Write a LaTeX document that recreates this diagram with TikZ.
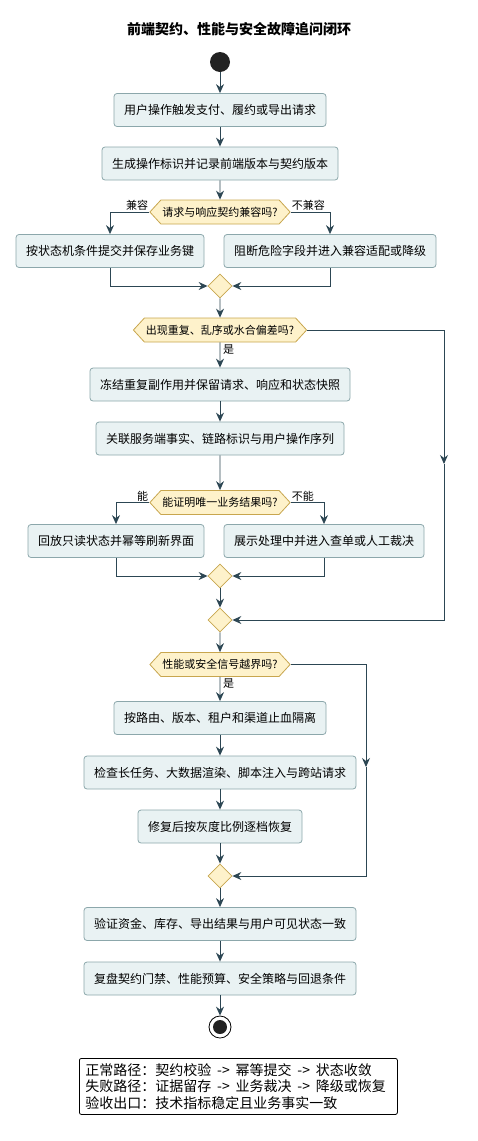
\documentclass[tikz,border=0pt]{standalone}
\usepackage{fontspec}
\setmainfont{Noto Sans CJK SC}
\usetikzlibrary{arrows.meta,shapes.geometric,shapes.symbols}
\definecolor{actfill}{HTML}{E9F2F3}
\definecolor{actline}{HTML}{8CA7AB}
\definecolor{askfill}{HTML}{FEF2CB}
\definecolor{askline}{HTML}{C8A64E}
\definecolor{flowcol}{HTML}{2C4653}
\definecolor{dotcol}{HTML}{222222}
\newcommand\flowto{\hspace{5.8pt}->\hspace{5.8pt}}
\begin{document}
\begin{tikzpicture}[x=1pt,y=-1pt,
  actbox/.style={rectangle, rounded corners=3pt, draw=actline, fill=actfill, line width=0.8pt, minimum height=33pt, inner xsep=10pt, inner ysep=0pt, font=\fontsize{12}{14}\selectfont},
  askbox/.style={signal, signal to=east and west, signal pointer angle=95, draw=askline, fill=askfill, line width=0.8pt, minimum height=24pt, inner xsep=1.5pt, inner ysep=0pt, font=\fontsize{11}{13}\selectfont},
  mergebox/.style={diamond, draw=askline, fill=askfill, line width=0.8pt, minimum width=24pt, minimum height=24pt, inner sep=0pt},
  branchlbl/.style={inner sep=1pt, font=\fontsize{11}{13}\selectfont},
  flow/.style={draw=flowcol, line width=0.9pt, -{Stealth[length=9pt,width=8pt,inset=3pt]}},
  startdot/.style={circle, fill=dotcol, minimum size=20pt, inner sep=0pt},
  endring/.style={circle, draw=black, fill=white, line width=0.8pt, minimum size=22pt, inner sep=0pt},
  enddot/.style={circle, fill=dotcol, minimum size=14pt, inner sep=0pt},
  notebox/.style={rectangle, rounded corners=2pt, draw=black, fill=white, line width=0.8pt, align=left, text width=306pt, inner xsep=6pt, inner ysep=5pt, font=\fontsize{14}{16.5}\selectfont}]
\useasboundingbox (0,0) rectangle (478,1141);
\node[font=\fontsize{14}{16}\selectfont\bfseries] (title) at (239,29){前端契约、性能与安全故障追问闭环};
\node[startdot] (start) at (220,62){};
\node[actbox] (a1) at (220,110){用户操作触发支付、履约或导出请求};
\node[actbox] (a2) at (220,163.5){生成操作标识并记录前端版本与契约版本};
\node[askbox] (q1) at (220,212){请求与响应契约兼容吗?};
\node[actbox] (b1) at (110,251){按状态机条件提交并保存业务键};
\node[actbox] (b2) at (330,251){阻断危险字段并进入兼容适配或降级};
\node[mergebox] (m1) at (220,286){};
\node[askbox] (q2) at (220,330){出现重复、乱序或水合偏差吗?};
\node[actbox] (a3) at (220,384.5){冻结重复副作用并保留请求、响应和状态快照};
\node[actbox] (a4) at (220,438.5){关联服务端事实、链路标识与用户操作序列};
\node[askbox] (q3) at (220,502.5){能证明唯一业务结果吗?};
\node[actbox] (c1) at (116,541){回放只读状态并幂等刷新界面};
\node[actbox] (c2) at (324,541){展示处理中并进入查单或人工裁决};
\node[mergebox] (m2) at (220,576){};
\node[mergebox] (m3) at (220,620){};
\node[askbox] (q4) at (220,664.5){性能或安全信号越界吗?};
\node[actbox] (a5) at (220,718){按路由、版本、租户和渠道止血隔离};
\node[actbox] (a6) at (220,772.5){检查长任务、大数据渲染、脚本注入与跨站请求};
\node[actbox] (a7) at (220,826.5){修复后按灰度比例逐档恢复};
\node[mergebox] (m4) at (220,876){};
\node[actbox] (a8) at (220,924){验证资金、库存、导出结果与用户可见状态一致};
\node[actbox] (a9) at (220,978.5){复盘契约门禁、性能预算、安全策略与回退条件};
\node[endring] (stop) at (220,1027){};
\node[enddot] (stopdot) at (stop){};
\node[notebox, anchor=north west] (legend) at (79,1058){正常路径：契约校验\flowto 幂等提交\flowto 状态收敛\\失败路径：证据留存\flowto 业务裁决\flowto 降级或恢复\\验收出口：技术指标稳定且业务事实一致};
\node[branchlbl, anchor=south east] (q1yes) at (q1.west){兼容};
\node[branchlbl, anchor=south west] (q1no) at (q1.east){不兼容};
\node[branchlbl, anchor=north west] (q2yes) at ([xshift=2pt,yshift=-1pt]q2.south){是};
\node[branchlbl, anchor=south east] (q3yes) at (q3.west){能};
\node[branchlbl, anchor=south west] (q3no) at (q3.east){不能};
\node[branchlbl, anchor=north west] (q4yes) at ([xshift=2pt,yshift=-1pt]q4.south){是};
\coordinate (loopA) at (444,464);
\coordinate (loopB) at (366,767);
\draw [flow] (start)--(a1);
\draw [flow] (a1)--(a2);
\draw [flow] (a2)--(q1);
\draw [flow] (q1.west) -| (b1.north);
\draw [flow] (q1.east) -| (b2.north);
\draw [flow] (b1.south) |- (m1.west);
\draw [flow] (b2.south) |- (m1.east);
\draw [flow] (m1)--(q2);
\draw [flow] (q2)--(a3);
\draw [flow] (q2.east) -| (loopA);
\draw [flow] (loopA) |- (m3.east);
\draw [flow] (a3)--(a4);
\draw [flow] (a4)--(q3);
\draw [flow] (q3.west) -| (c1.north);
\draw [flow] (q3.east) -| (c2.north);
\draw [flow] (c1.south) |- (m2.west);
\draw [flow] (c2.south) |- (m2.east);
\draw [flow] (m2)--(m3);
\draw [flow] (m3)--(q4);
\draw [flow] (q4)--(a5);
\draw [flow] (q4.east) -| (loopB);
\draw [flow] (loopB) |- (m4.east);
\draw [flow] (a5)--(a6);
\draw [flow] (a6)--(a7);
\draw [flow] (a7)--(m4);
\draw [flow] (m4)--(a8);
\draw [flow] (a8)--(a9);
\draw [flow] (a9)--(stop);
\end{tikzpicture}
\end{document}
